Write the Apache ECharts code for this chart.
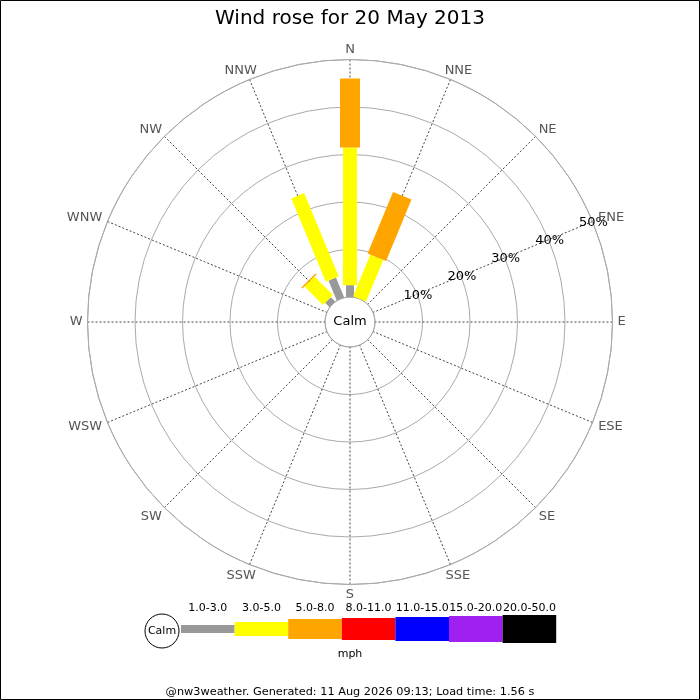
<!DOCTYPE html>
<html>
<head>
<meta charset="utf-8">
<title>Wind rose</title>
<script src="https://cdn.jsdelivr.net/npm/echarts@6/dist/echarts.min.js"></script>
<style>
    html, body { margin: 0; padding: 0; background: #fff; }
    #chart { width: 700px; height: 700px; }
</style>
</head>
<body>
<div id="chart"></div>
<script>
// 16个风向 (罗盘方向, 0=N, 顺时针)
const directions = ['N', 'NNE', 'NE', 'ENE', 'E', 'ESE', 'SE', 'SSE',
    'S', 'SSW', 'SW', 'WSW', 'W', 'WNW', 'NW', 'NNW'];

// 风速分级 (mph)
const speedBins = ['1.0-3.0', '3.0-5.0', '5.0-8.0', '8.0-11.0', '11.0-15.0', '15.0-20.0', '20.0-50.0'];
const binColors = ['#999999', '#ffff00', '#ffa500', '#ff0000', '#0000ff', '#a020f0', '#000000'];
const binWidths = [8, 14, 20, 22, 24, 26, 28];

// 各风速等级在各方向上的频率 (%)
const freq1to3   = [2.5, 0, 0, 0, 0, 0, 0, 0, 0, 0, 0, 0, 0, 0, 1.3, 4.5];
const freq3to5   = [29, 9.5, 0, 0, 0, 0, 0, 0, 0, 0, 0, 0, 0, 0, 5.5, 19];
const freq5to8   = [14.5, 14, 0, 0, 0, 0, 0, 0, 0, 0, 0, 0, 0, 0, 0.3, 0];
const freq8to11  = [0, 0, 0, 0, 0, 0, 0, 0, 0, 0, 0, 0, 0, 0, 0, 0];
const freq11to15 = [0, 0, 0, 0, 0, 0, 0, 0, 0, 0, 0, 0, 0, 0, 0, 0];
const freq15to20 = [0, 0, 0, 0, 0, 0, 0, 0, 0, 0, 0, 0, 0, 0, 0, 0];
const freq20to50 = [0, 0, 0, 0, 0, 0, 0, 0, 0, 0, 0, 0, 0, 0, 0, 0];
const freqs = [freq1to3, freq3to5, freq5to8, freq8to11, freq11to15, freq15to20, freq20to50];

// 半径刻度 (%)
const radiusTicks = [10, 20, 30, 40, 50];
const radiusMax = 50;
const labelDirection = 'ENE';

const titleText = 'Wind rose for 20 May 2013';
const footerText = '@nw3weather. Generated: 11 Aug 2026 09:13; Load time: 1.56 s';

const FONT = 'DejaVu Sans';
const DIR_FONT = '13px "DejaVu Sans"';
const step = 360 / directions.length;

// 测量文字宽度, 用于方向标签的连续对齐
const measureCtx = document.createElement('canvas').getContext('2d');
function textWidth(text, font) {
    measureCtx.font = font;
    return measureCtx.measureText(text).width;
}

// 累加各等级, 生成每段的起止
const cumulative = directions.map(() => 0);
const barSeries = freqs.map((arr, k) => {
    const data = [];
    arr.forEach((v, i) => {
        const start = cumulative[i];
        cumulative[i] += v;
        if (v > 0) data.push([start, i * step, cumulative[i], k]);
    });
    return {
        type: 'custom',
        name: speedBins[k],
        coordinateSystem: 'polar',
        encode: { radius: [0, 2], angle: 1 },
        silent: true,
        z: 3,
        data: data,
        renderItem: function (params, api) {
            const s = api.value(0), ang = api.value(1), e = api.value(2);
            const w = binWidths[api.value(3)];
            const p0 = api.coord([s, ang]);
            const p1 = api.coord([e, ang]);
            const t = ang * Math.PI / 180;
            const nx = Math.cos(t) * w / 2, ny = Math.sin(t) * w / 2;
            return {
                type: 'polygon',
                shape: {
                    points: [
                        [p0[0] - nx, p0[1] - ny], [p1[0] - nx, p1[1] - ny],
                        [p1[0] + nx, p1[1] + ny], [p0[0] + nx, p0[1] + ny]
                    ]
                },
                style: { fill: binColors[api.value(3)] }
            };
        }
    };
});

// 半径标签沿ENE方向
const labelAngle = directions.indexOf(labelDirection) * step;
const radiusLabelSeries = {
    type: 'custom',
    coordinateSystem: 'polar',
    silent: true,
    z: 5,
    data: radiusTicks.map(v => [v, labelAngle]),
    renderItem: function (params, api) {
        const p = api.coord([api.value(0), api.value(1)]);
        return {
            type: 'text',
            x: p[0] + 1,
            y: p[1] + 1,
            style: {
                text: api.value(0) + '%',
                fill: '#000',
                font: '13px "DejaVu Sans"',
                textAlign: 'center',
                textVerticalAlign: 'middle'
            }
        };
    }
};

// 方向标签: 外圈外侧, 按角度连续对齐
const dirLabelSeries = {
    type: 'custom',
    coordinateSystem: 'polar',
    silent: true,
    z: 5,
    data: directions.map((d, i) => [radiusMax, i * step, i]),
    renderItem: function (params, api) {
        const ang = api.value(1);
        const name = directions[api.value(2)];
        const p = api.coord([api.value(0), ang]);
        const t = ang * Math.PI / 180;
        const sx = Math.sin(t), cy = Math.cos(t);
        const diag = Math.abs(sx * cy);
        const w = textWidth(name, DIR_FONT), h = 10;
        const gapX = 5 + 6 * diag;
        const gapY = 5 + (cy < 0 ? 6 * diag : 0);
        return {
            type: 'text',
            x: p[0] + sx * (gapX + w / 2),
            y: p[1] - cy * (gapY + h / 2),
            style: {
                text: name,
                fill: '#555',
                font: DIR_FONT,
                textAlign: 'center',
                textVerticalAlign: 'middle'
            }
        };
    }
};

// 图例 (底部色条)
const legendLeft = 181, legendY = 629, binLen = 53.6;
const legendGraphics = [
    {
        type: 'circle',
        shape: { cx: 162, cy: 631, r: 17 },
        style: { fill: '#fff', stroke: '#000', lineWidth: 1 }
    },
    {
        type: 'text', x: 162, y: 631,
        style: { text: 'Calm', font: '11px "DejaVu Sans"', fill: '#000', textAlign: 'center', textVerticalAlign: 'middle' }
    }
];
speedBins.forEach((label, k) => {
    const x0 = legendLeft + k * binLen;
    legendGraphics.push({
        type: 'rect',
        shape: { x: x0, y: legendY - binWidths[k] / 2, width: binLen, height: binWidths[k] },
        style: { fill: binColors[k] }
    });
    legendGraphics.push({
        type: 'text', x: x0 + binLen / 2, y: 608,
        style: { text: label, font: '11px "DejaVu Sans"', fill: '#000', textAlign: 'center', textVerticalAlign: 'middle' }
    });
});
legendGraphics.push({
    type: 'text', x: 350, y: 654,
    style: { text: 'mph', font: '11px "DejaVu Sans"', fill: '#000', textAlign: 'center', textVerticalAlign: 'middle' }
});

const chart = echarts.init(document.getElementById('chart'), null, { renderer: 'canvas' });

const option = {
    backgroundColor: '#fff',
    animation: false,
    textStyle: { fontFamily: FONT },
    title: {
        text: titleText,
        left: 'center',
        top: 4,
        textStyle: { fontFamily: FONT, fontSize: 20, fontWeight: 'normal', color: '#000' }
    },
    polar: {
        center: [350, 322],
        radius: [25, 262.5]
    },
    angleAxis: {
        type: 'value',
        min: 0,
        max: 360,
        interval: step,
        startAngle: 90,
        clockwise: true,
        axisLine: { show: true, lineStyle: { color: '#aaa', width: 1 } },
        axisTick: { show: false },
        axisLabel: { show: false },
        splitLine: { show: true, lineStyle: { color: '#444', width: 1, type: [2, 2] } }
    },
    radiusAxis: {
        type: 'value',
        min: 0,
        max: radiusMax,
        interval: 10,
        axisLine: { show: false },
        axisTick: { show: false },
        axisLabel: { show: false },
        splitLine: { show: true, lineStyle: { color: '#aaa', width: 1 } }
    },
    series: barSeries.concat([radiusLabelSeries, dirLabelSeries]),
    graphic: [
        {
            type: 'text', x: 350, y: 322, z: 10,
            style: { text: 'Calm', font: '13px "DejaVu Sans"', fill: '#000', textAlign: 'center', textVerticalAlign: 'middle' }
        },
        {
            type: 'text', x: 350, y: 692,
            style: { text: footerText, font: '11.3px "DejaVu Sans"', fill: '#000', textAlign: 'center', textVerticalAlign: 'middle' }
        },
        {
            type: 'rect',
            shape: { x: 0.5, y: 0.5, width: 699, height: 699 },
            style: { fill: 'none', stroke: '#000', lineWidth: 1 }
        }
    ].concat(legendGraphics)
};

chart.setOption(option);
</script>
</body>
</html>
